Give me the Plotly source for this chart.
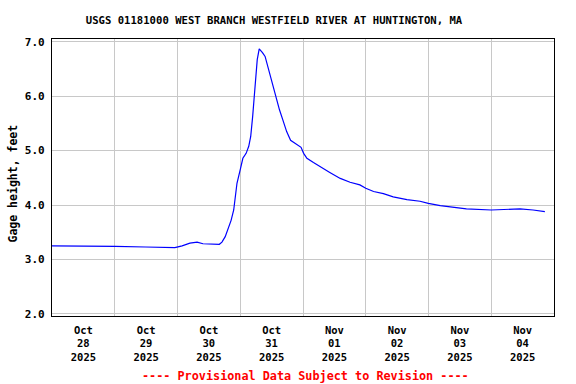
import plotly.graph_objects as go

# Gage height readings (feet)
times = [
    "2025-10-28 00:00", "2025-10-28 12:45", "2025-10-29 00:15", "2025-10-29 11:45",
    "2025-10-29 23:00", "2025-10-30 01:45", "2025-10-30 04:45", "2025-10-30 07:30",
    "2025-10-30 09:45", "2025-10-30 16:00", "2025-10-30 17:00", "2025-10-30 18:15",
    "2025-10-30 19:30", "2025-10-30 20:30", "2025-10-30 21:30", "2025-10-30 22:00",
    "2025-10-30 22:45", "2025-10-31 00:00", "2025-10-31 01:00", "2025-10-31 02:15",
    "2025-10-31 03:15", "2025-10-31 04:00", "2025-10-31 04:30", "2025-10-31 04:45",
    "2025-10-31 05:15", "2025-10-31 06:00", "2025-10-31 06:30", "2025-10-31 07:15",
    "2025-10-31 07:55", "2025-10-31 08:30", "2025-10-31 09:30", "2025-10-31 10:30",
    "2025-10-31 11:30", "2025-10-31 12:45", "2025-10-31 13:45", "2025-10-31 15:00",
    "2025-10-31 16:15", "2025-10-31 17:45", "2025-10-31 19:15", "2025-10-31 21:30",
    "2025-10-31 23:15", "2025-11-01 00:15", "2025-11-01 01:30", "2025-11-01 04:00",
    "2025-11-01 07:15", "2025-11-01 10:15", "2025-11-01 14:15", "2025-11-01 18:00",
    "2025-11-01 21:45", "2025-11-02 00:00", "2025-11-02 03:00", "2025-11-02 06:45",
    "2025-11-02 10:30", "2025-11-02 15:45", "2025-11-02 20:45", "2025-11-02 23:55",
    "2025-11-03 04:30", "2025-11-03 09:30", "2025-11-03 14:30", "2025-11-04 00:00",
    "2025-11-04 07:15", "2025-11-04 11:00", "2025-11-04 16:00", "2025-11-04 20:30",
]
gage_ft = [
    3.25, 3.25, 3.24, 3.23,
    3.22, 3.25, 3.30, 3.32,
    3.29, 3.28, 3.32, 3.42,
    3.57, 3.72, 3.91, 4.15,
    4.40, 4.65, 4.86, 4.95,
    5.08, 5.26, 5.44, 5.63,
    5.93, 6.30, 6.67, 6.87,
    6.82, 6.80, 6.73, 6.55,
    6.36, 6.12, 5.93, 5.75,
    5.57, 5.35, 5.19, 5.11,
    5.06, 4.95, 4.86, 4.78,
    4.68, 4.60, 4.49, 4.42,
    4.37, 4.31, 4.25, 4.21,
    4.15, 4.10, 4.07, 4.03,
    3.99, 3.96, 3.93, 3.91,
    3.93, 3.93, 3.91, 3.88,
]

day_midnights = ["2025-10-28", "2025-10-29", "2025-10-30", "2025-10-31",
                 "2025-11-01", "2025-11-02", "2025-11-03", "2025-11-04", "2025-11-05"]
label_noons = ["2025-10-28 12:00", "2025-10-29 12:00", "2025-10-30 12:00", "2025-10-31 12:00",
               "2025-11-01 12:00", "2025-11-02 12:00", "2025-11-03 12:00", "2025-11-04 12:00"]
label_text = ["Oct<br>28<br>2025", "Oct<br>29<br>2025", "Oct<br>30<br>2025", "Oct<br>31<br>2025",
              "Nov<br>01<br>2025", "Nov<br>02<br>2025", "Nov<br>03<br>2025", "Nov<br>04<br>2025"]
y_ticks = [2.0, 3.0, 4.0, 5.0, 6.0, 7.0]

title_text = "USGS 01181000 WEST BRANCH WESTFIELD RIVER AT HUNTINGTON, MA"
ylabel_text = "Gage height, feet"
footer_text = "---- Provisional Data Subject to Revision ----"

FONT = "DejaVu Sans Mono"

fig = go.Figure()
fig.add_trace(go.Scatter(x=times, y=gage_ft, mode="lines",
                         line=dict(color="#0000ff", width=1.2), showlegend=False))

fig.update_layout(
    width=576, height=384,
    margin=dict(l=52, r=22, t=39, b=68),
    paper_bgcolor="white", plot_bgcolor="white",
    font=dict(family=FONT, size=11, color="black", weight="bold"),
    title=dict(text=title_text, x=274 / 576, xref="container", xanchor="center",
               y=1 - 20 / 384, yref="container", yanchor="middle",
               font=dict(family=FONT, size=10.6, color="black", weight="bold")),
    xaxis=dict(
        type="date",
        range=[day_midnights[0], day_midnights[-1]],
        tickmode="array", tickvals=label_noons, ticktext=label_text,
        showgrid=False, ticks="outside", ticklen=4, tickcolor="rgba(0,0,0,0)",
        showline=True, mirror=True, linecolor="black", linewidth=1.3,
        minor=dict(tickmode="array", tickvals=day_midnights, showgrid=True,
                   gridcolor="#c8c8c8", gridwidth=1, ticks=""),
        tickfont=dict(family=FONT, size=10.5, color="black", weight="bold"),
        zeroline=False,
    ),
    yaxis=dict(
        range=[1.963, 7.05],
        tickmode="array", tickvals=y_ticks, tickformat=".1f",
        showgrid=True, gridcolor="#c8c8c8", gridwidth=1,
        ticks="outside", ticklen=4, tickcolor="rgba(0,0,0,0)",
        showline=True, mirror=True, linecolor="black", linewidth=1.3,
        tickfont=dict(family=FONT, size=11, color="black", weight="bold"),
        zeroline=False,
    ),
    annotations=[
        dict(text=ylabel_text, textangle=-90, xref="paper", yref="paper",
             x=(12 - 52) / 502, y=(316 - 183.5) / 277, xanchor="center", yanchor="middle",
             showarrow=False, font=dict(family=FONT, size=11.5, color="black", weight="bold")),
        dict(text=footer_text, xref="paper", yref="paper",
             x=(305 - 52) / 502, y=(316 - 376) / 277, xanchor="center", yanchor="middle",
             showarrow=False, font=dict(family=FONT, size=11.8, color="#ff0000", weight="bold")),
    ],
)

fig.write_html("out.html", config={"displayModeBar": False},
               post_script="document.body.style.margin='0';document.body.style.padding='0';")
